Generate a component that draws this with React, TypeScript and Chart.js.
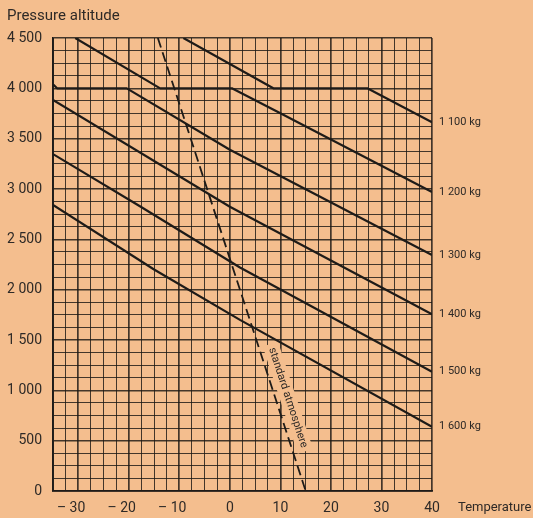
import React, { useEffect, useRef } from "react";
import { Chart, registerables } from "chart.js";

Chart.register(...registerables);

// ---- data ----
const weightLabels = ["1 100 kg", "1 200 kg", "1 300 kg", "1 400 kg", "1 500 kg", "1 600 kg"];

const temp1100 = [-9.2, 8.6, 27.2, 40];
const alt1100 = [4500, 4000, 4000, 3662];

const temp1200 = [-30.6, -13.8, 0.4, 10, 40];
const alt1200 = [4500, 4000, 4000, 3752, 2970];

const temp1300 = [-35, -34.2, -20.4, 0, 40];
const alt1300 = [4040, 4000, 4000, 3390, 2344];

const temp1400 = [-35, 0, 40];
const alt1400 = [3884, 2824, 1755];

const temp1500 = [-35, -17.8, 2, 40];
const alt1500 = [3347, 2828, 2220, 1185];

const temp1600 = [-35, -15, 2, 40];
const alt1600 = [2841, 2200, 1700, 639];

const stdTemp = [-14.25, 15];
const stdAlt = [4500, 0];
const stdLabel = "standard atmosphere";
const stdLabelAlt = 890;

const xMin = -35;
const xMax = 40;
const xGridStep = 2.5;
const xLabelStep = 10;
const yMin = 0;
const yMax = 4500;
const yGridStep = 125;
const yLabelStep = 500;

const yTitle = "Pressure altitude";
const xTitle = "Temperature";

// ---- styles ----
const BG = "#f4be8e";
const INK = "#1e1b18";
const TEXT = "#2e2a27";
const FONT = "Roboto, 'Liberation Sans', sans-serif";

const tempSeries = [temp1100, temp1200, temp1300, temp1400, temp1500, temp1600];
const altSeries = [alt1100, alt1200, alt1300, alt1400, alt1500, alt1600];

function fmtAlt(v: number): string {
  if (v >= 1000) {
    const th = Math.floor(v / 1000);
    const rest = String(v % 1000).padStart(3, "0");
    return `${th} ${rest}`;
  }
  return String(v);
}

function fmtTemp(v: number): string {
  if (v < 0) return `\u2013 ${-v}\u2002\u2002`;
  return String(v);
}

const textPlugin = {
  id: "texts",
  beforeDatasetsDraw(chart: any) {
    const { ctx, scales } = chart;
    const x = scales.x;
    const y = scales.y;
    const x0 = x.getPixelForValue(stdTemp[0]);
    const y0 = y.getPixelForValue(stdAlt[0]);
    const x1 = x.getPixelForValue(stdTemp[1]);
    const y1 = y.getPixelForValue(stdAlt[1]);
    const ang = Math.atan2(y1 - y0, x1 - x0);
    const t = (stdLabelAlt - stdAlt[0]) / (stdAlt[1] - stdAlt[0]);
    const ax = x0 + (x1 - x0) * t;
    const ay = y0 + (y1 - y0) * t;
    const off = 12;
    const cx = ax + off * Math.sin(ang);
    const cy = ay - off * Math.cos(ang);
    ctx.save();
    ctx.translate(cx, cy);
    ctx.rotate(ang);
    ctx.font = `11px ${FONT}`;
    const w = ctx.measureText(stdLabel).width;
    ctx.fillStyle = BG;
    ctx.fillRect(-w / 2 - 4, -8, w + 8, 16);
    ctx.fillStyle = TEXT;
    ctx.textAlign = "center";
    ctx.textBaseline = "middle";
    ctx.fillText(stdLabel, 0, 0);
    ctx.restore();
  },
  afterDraw(chart: any) {
    const { ctx, scales, chartArea } = chart;
    const x = scales.x;
    const y = scales.y;
    ctx.save();
    ctx.fillStyle = TEXT;
    ctx.font = `11px ${FONT}`;
    ctx.textAlign = "left";
    ctx.textBaseline = "middle";
    weightLabels.forEach((lab, i) => {
      const ts = tempSeries[i];
      const as = altSeries[i];
      const px = x.getPixelForValue(ts[ts.length - 1]);
      const py = y.getPixelForValue(as[as.length - 1]);
      ctx.fillText(lab, px + 7, py);
    });
    ctx.font = `15px ${FONT}`;
    ctx.textBaseline = "alphabetic";
    ctx.fillText(yTitle, 7, 20);
    ctx.font = `13px ${FONT}`;
    ctx.textBaseline = "middle";
    ctx.fillText(xTitle, chartArea.right + 26, chartArea.bottom + 17);
    ctx.restore();
  },
};

export default function App() {
  const ref = useRef<HTMLCanvasElement | null>(null);

  useEffect(() => {
    const canvas = ref.current;
    if (!canvas) return;

    const datasets: any[] = weightLabels.map((lab, i) => ({
      label: lab,
      data: tempSeries[i].map((tv, j) => ({ x: tv, y: altSeries[i][j] })),
      borderColor: INK,
      borderWidth: 2.2,
      pointRadius: 0,
      tension: 0,
      fill: false,
      borderJoinStyle: "round",
      borderCapStyle: "butt",
    }));
    datasets.push({
      label: stdLabel,
      data: stdTemp.map((tv, j) => ({ x: tv, y: stdAlt[j] })),
      borderColor: INK,
      borderWidth: 1.8,
      borderDash: [10, 5],
      pointRadius: 0,
      tension: 0,
      fill: false,
    });

    const chart = new Chart(canvas, {
      type: "line",
      data: { datasets },
      options: {
        animation: false,
        responsive: false,
        devicePixelRatio: 1,
        layout: { padding: { top: 38, right: 101, left: 0, bottom: 0 } },
        plugins: {
          legend: { display: false },
          tooltip: { enabled: false },
          title: { display: false },
        },
        scales: {
          x: {
            type: "linear",
            min: xMin,
            max: xMax,
            afterFit: (s: any) => {
              s.height = 27;
            },
            ticks: {
              stepSize: xGridStep,
              autoSkip: false,
              maxRotation: 0,
              minRotation: 0,
              padding: 9,
              color: TEXT,
              font: { family: FONT, size: 14 },
              callback: (v: any) => {
                const n = Number(v);
                return Math.abs(n % xLabelStep) < 1e-9 ? fmtTemp(n) : "";
              },
            },
            grid: {
              drawTicks: false,
              color: "rgba(28,24,20,0.82)",
              lineWidth: (c: any) => {
                const v = c.tick ? c.tick.value : 0;
                return Math.abs(v % xLabelStep) < 1e-9 ? 1.7 : 1.0;
              },
            },
            border: { display: true, color: INK, width: 1.8 },
          },
          y: {
            type: "linear",
            min: yMin,
            max: yMax,
            afterFit: (s: any) => {
              s.width = 53;
            },
            ticks: {
              stepSize: yGridStep,
              autoSkip: false,
              padding: 11,
              color: TEXT,
              font: { family: FONT, size: 14 },
              callback: (v: any) => {
                const n = Number(v);
                return n % yLabelStep === 0 ? fmtAlt(n) : "";
              },
            },
            grid: {
              drawTicks: false,
              color: "rgba(28,24,20,0.82)",
              lineWidth: (c: any) => {
                const v = c.tick ? c.tick.value : 0;
                return v % yLabelStep === 0 ? 1.5 : 1.0;
              },
            },
            border: { display: true, color: INK, width: 1.8 },
          },
        },
      },
      plugins: [textPlugin],
    });

    return () => {
      chart.destroy();
    };
  }, []);

  return (
    <div
      style={{
        position: "fixed",
        left: 0,
        top: 0,
        width: 533,
        height: 518,
        background: BG,
        overflow: "hidden",
      }}
    >
      <canvas ref={ref} width={533} height={518} style={{ display: "block", width: 533, height: 518 }} />
    </div>
  );
}
